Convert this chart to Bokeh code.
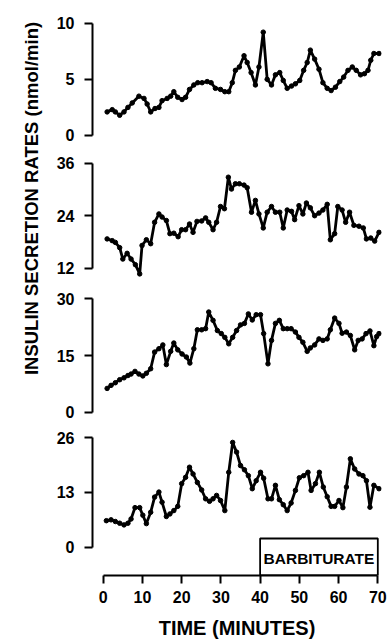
import math
from bokeh.plotting import figure
from bokeh.layouts import column, row
from bokeh.models import Range1d, FixedTicker, BoxAnnotation
from bokeh.embed import file_html
from bokeh.resources import INLINE
from bokeh.core.properties import value

FONT = "Liberation Sans"

# ---------------- data (minutes, nmol/min) ----------------
t1 = [1.0, 2.3, 3.1, 4.2, 5.3, 6.3, 7.4, 9.1, 10.4, 11.2, 12.1, 13.2, 14.2, 15.0, 16.3, 17.2, 18.0, 19.0, 20.1, 21.0,
      22.0, 23.1, 24.1, 25.2, 26.5, 27.5, 28.6, 29.9, 31.0, 32.0, 32.9, 33.7, 34.7, 35.9, 36.7, 37.7, 38.8, 39.7, 40.8, 41.8,
      42.9, 43.9, 45.0, 45.9, 46.9, 48.0, 49.0, 50.1, 51.1, 52.0, 52.8, 53.9, 55.0, 56.0, 57.1, 58.1, 59.2, 60.3, 61.3, 62.4,
      63.5, 64.5, 65.6, 66.6, 67.5, 68.2, 69.0, 70.3]
v1 = [2.1, 2.3, 2.1, 1.8, 2.1, 2.5, 2.9, 3.5, 3.3, 2.8, 2.1, 2.4, 2.5, 3.1, 3.3, 3.5, 3.9, 3.4, 3.2, 3.4,
      4.1, 4.5, 4.7, 4.7, 4.8, 4.7, 4.2, 4.1, 3.9, 3.9, 4.7, 5.8, 6.1, 7.1, 6.5, 5.6, 4.5, 6.1, 9.2, 5.0,
      4.5, 5.4, 5.6, 4.9, 4.2, 4.4, 4.6, 4.9, 5.8, 6.5, 7.6, 6.8, 5.9, 4.7, 4.2, 4.0, 4.3, 4.8, 5.2, 5.8,
      6.1, 5.8, 5.4, 5.5, 5.8, 6.7, 7.3, 7.3]

t2 = [1.0, 2.3, 3.1, 4.2, 5.0, 6.1, 7.1, 8.2, 9.3, 9.9, 11.0, 12.1, 13.1, 14.2, 15.0, 16.1, 17.0, 18.0, 19.1, 20.0,
      21.0, 22.0, 22.9, 23.9, 25.1, 26.1, 26.9, 28.0, 28.9, 29.9, 30.9, 31.9, 32.7, 33.7, 34.7, 35.9, 36.7, 37.8, 38.8, 39.7,
      40.8, 41.8, 42.9, 43.9, 45.0, 45.9, 46.9, 48.0, 48.8, 49.9, 50.9, 51.8, 52.8, 53.9, 55.0, 56.0, 57.1, 57.9, 59.0, 59.8,
      60.9, 61.8, 62.8, 63.9, 65.2, 66.3, 67.1, 68.2, 69.2, 70.3]
v2 = [18.7, 18.3, 17.9, 16.7, 14.1, 15.4, 14.1, 12.8, 10.7, 17.2, 18.5, 17.6, 22.5, 24.4, 23.7, 22.9, 19.9, 20.0, 19.2, 20.8,
      20.8, 22.1, 20.2, 22.7, 22.8, 23.5, 22.5, 20.8, 22.5, 26.1, 25.6, 32.8, 30.1, 31.3, 31.3, 31.0, 30.4, 24.8, 27.5, 24.4,
      21.2, 24.8, 26.1, 24.8, 24.8, 21.2, 25.3, 25.0, 23.1, 26.3, 24.4, 26.9, 25.8, 24.0, 24.6, 25.3, 26.6, 18.5, 19.9, 26.1,
      25.3, 22.5, 24.8, 21.8, 21.6, 21.2, 18.7, 18.9, 18.2, 20.2]

t3 = [1.0, 2.0, 3.1, 4.2, 5.3, 6.3, 7.1, 8.1, 9.1, 10.1, 11.0, 12.1, 13.1, 14.2, 15.2, 16.1, 17.2, 18.0, 19.0, 20.1,
      21.2, 22.1, 23.1, 24.0, 25.1, 26.1, 26.9, 28.0, 29.1, 30.1, 31.0, 32.0, 33.0, 34.0, 35.0, 36.0, 37.0, 38.0, 39.0, 40.1,
      40.9, 42.0, 42.9, 43.9, 44.9, 45.9, 46.9, 47.9, 49.0, 49.9, 50.9, 52.0, 52.8, 53.9, 55.0, 56.0, 57.1, 57.9, 59.0, 60.1,
      60.9, 62.0, 63.0, 64.1, 65.0, 66.0, 67.0, 68.0, 69.0, 69.7, 70.3]
v3 = [6.3, 7.1, 7.8, 8.6, 9.1, 9.7, 10.1, 10.8, 10.1, 9.6, 10.3, 11.5, 15.9, 16.8, 17.8, 12.6, 16.1, 18.3, 16.5, 15.4,
      14.6, 13.0, 16.8, 21.8, 21.8, 22.1, 26.5, 24.3, 21.6, 20.8, 19.8, 18.1, 19.8, 21.6, 23.1, 23.5, 26.0, 24.4, 25.8, 25.8,
      20.8, 12.8, 19.0, 23.5, 24.3, 22.1, 22.1, 22.1, 21.2, 19.8, 18.5, 16.1, 17.0, 17.8, 19.4, 19.0, 19.4, 21.8, 24.9, 23.5,
      20.9, 21.2, 20.3, 16.5, 19.0, 19.4, 20.8, 21.5, 17.6, 20.0, 20.8]

t4 = [0.8, 2.0, 3.1, 4.2, 5.3, 6.3, 7.1, 8.1, 9.3, 10.1, 11.0, 12.1, 13.1, 14.2, 15.0, 16.1, 17.0, 18.0, 19.0, 20.0,
      21.0, 22.0, 22.9, 24.0, 25.1, 26.1, 27.1, 28.0, 28.9, 29.9, 31.0, 32.0, 33.0, 34.0, 35.0, 36.0, 37.0, 38.0, 39.0, 40.1,
      40.9, 42.0, 42.9, 43.9, 44.9, 45.9, 46.9, 47.9, 49.0, 50.0, 51.1, 52.2, 53.0, 54.1, 55.1, 56.1, 57.1, 58.1, 59.0, 60.1,
      61.1, 62.0, 63.0, 64.1, 65.2, 66.2, 67.1, 68.0, 69.0, 70.3]
v4 = [6.3, 6.5, 6.1, 5.7, 5.3, 5.7, 6.7, 9.4, 9.4, 7.6, 5.6, 8.3, 11.9, 13.1, 10.7, 7.3, 7.9, 8.7, 9.7, 15.1,
      16.6, 19.0, 17.4, 15.4, 13.6, 11.5, 10.9, 11.5, 12.3, 11.1, 8.7, 17.8, 24.9, 22.6, 19.4, 18.4, 17.0, 13.9, 15.8, 17.8,
      16.4, 11.5, 11.5, 14.7, 11.3, 10.1, 8.7, 10.5, 13.5, 16.5, 17.0, 17.8, 13.5, 15.1, 17.8, 14.3, 12.0, 9.7, 9.7, 11.1,
      9.4, 14.3, 21.0, 18.6, 17.4, 17.0, 15.8, 9.5, 14.7, 13.9]

y_ticks = [[0, 5, 10], [12, 24, 36], [0, 15, 30], [0, 13, 26]]
x_ticks = [0, 10, 20, 30, 40, 50, 60, 70]
barb_start, barb_end = 40, 70
barb_label = "BARBITURATE"
y_title = "INSULIN SECRETION RATES (nmol/min)"
x_title = "TIME (MINUTES)"

# ---------------- layout ----------------
series = [(t1, v1), (t2, v2), (t3, v3), (t4, v4)]
y_ranges = [(-1.16, 11.13), (8.05, 39.36), (-3.25, 33.52), (-6.73, 29.16)]
frame_heights = [138, 137, 139, 151]
tops = [10, 0, 0, 0]
bottoms = [0, 0, 0, 69]

figs = []
for i, ((tt, vv), yr, fh) in enumerate(zip(series, y_ranges, frame_heights)):
    last = (i == 3)
    p = figure(frame_width=289, frame_height=fh,
               x_range=Range1d(-2.73, 70.94), y_range=Range1d(*yr),
               output_backend="svg", toolbar_location=None,
               x_axis_location="below" if last else None,
               min_border_left=42, min_border_right=7,
               min_border_top=tops[i], min_border_bottom=bottoms[i])
    p.outline_line_color = None
    p.grid.visible = False
    p.background_fill_color = "white"
    p.border_fill_color = "white"

    ax = p.yaxis[0]
    ax.ticker = FixedTicker(ticks=y_ticks[i])
    ax.bounds = (y_ticks[i][0], y_ticks[i][-1])
    ax.axis_line_width = 2
    ax.axis_line_color = "black"
    ax.major_tick_line_width = 2
    ax.major_tick_line_color = "black"
    ax.major_tick_out = 8
    ax.major_tick_in = 0
    ax.minor_tick_line_color = None
    ax.major_label_standoff = 10
    ax.major_label_text_font = FONT
    ax.major_label_text_font_style = "bold"
    ax.major_label_text_font_size = "16px"
    ax.major_label_text_color = "black"

    if last:
        xa = p.xaxis[0]
        xa.ticker = FixedTicker(ticks=x_ticks)
        xa.bounds = (x_ticks[0], x_ticks[-1])
        xa.axis_line_width = 2
        xa.axis_line_color = "black"
        xa.major_tick_line_width = 2
        xa.major_tick_line_color = "black"
        xa.major_tick_out = 8
        xa.major_tick_in = 0
        xa.minor_tick_line_color = None
        xa.major_label_standoff = 7
        xa.major_label_text_font = FONT
        xa.major_label_text_font_style = "bold"
        xa.major_label_text_font_size = "16px"
        xa.major_label_text_color = "black"
        xa.axis_label = x_title
        xa.axis_label_text_font = FONT
        xa.axis_label_text_font_style = "bold"
        xa.axis_label_text_font_size = "20px"
        xa.axis_label_text_color = "black"
        xa.axis_label_standoff = 11

        box = BoxAnnotation(left=barb_start, right=barb_end, top=2.07,
                            fill_color=None, fill_alpha=0,
                            line_color="black", line_alpha=1.0, line_width=1.8)
        p.add_layout(box)
        p.text(x=[(barb_start + barb_end) / 2], y=[-2.7], text=[barb_label],
               text_align="center", text_baseline="middle",
               text_font=value(FONT), text_font_style="bold",
               text_font_size="15.5px", text_color="black")

    p.line(tt, vv, line_color="black", line_width=2.8)
    p.scatter(tt, vv, size=4.5, fill_color="black", line_color="black")
    figs.append(p)

lab = figure(width=50, height=644, x_range=Range1d(0, 50), y_range=Range1d(644, 0),
             output_backend="svg", toolbar_location=None,
             x_axis_location=None, y_axis_location=None, min_border=0)
lab.outline_line_color = None
lab.grid.visible = False
lab.text(x=[31], y=[198], text=[y_title], angle=math.pi / 2,
         text_align="center", text_baseline="middle",
         text_font=value(FONT), text_font_style="bold",
         text_font_size="18.5px", text_color="black")

layout = row(lab, column(*figs, spacing=0), spacing=0)
open("out.html", "w").write(file_html(layout, INLINE))
